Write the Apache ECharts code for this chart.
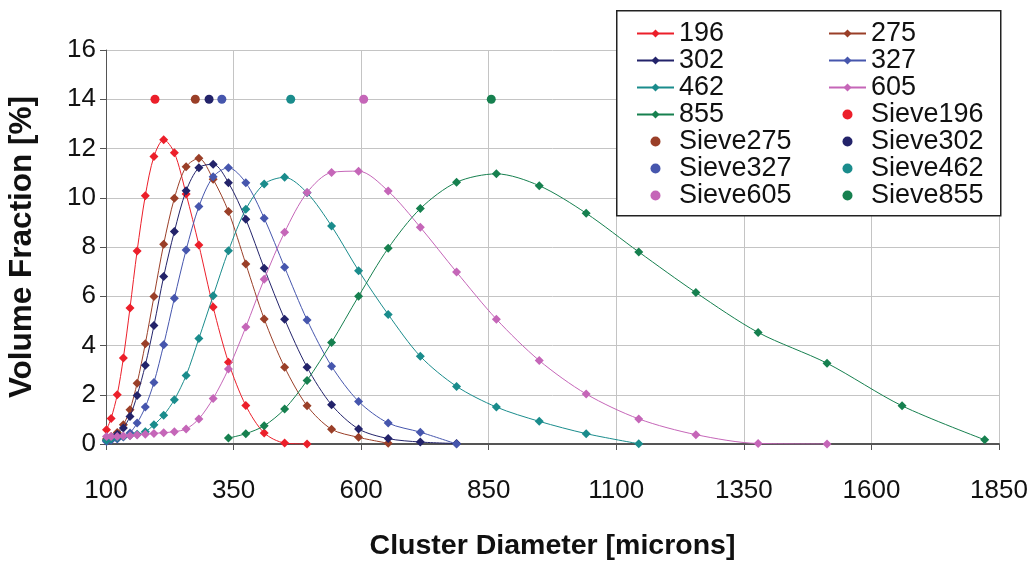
<!DOCTYPE html>
<html>
<head>
<meta charset="utf-8">
<script src="https://cdn.jsdelivr.net/npm/echarts@6/dist/echarts.min.js"></script>
<style>
  html, body { margin: 0; padding: 0; background: #fff; }
  #main { width: 1034px; height: 562px; }
</style>
</head>
<body>
<div id="main"></div>
<script>
// cluster diameter bins (microns), shared by every curve
const diameters = [101, 110, 122, 134, 147, 161, 177, 194, 213, 234, 257, 282, 310, 340, 374, 410,
                   450, 494, 542, 595, 653, 716, 787, 865, 949, 1041, 1144, 1256, 1378, 1513, 1660, 1822];

// volume fraction [%] per bin, null = no point
const v196 = [0.58, 1.04, 2.0, 3.49, 5.52, 7.84, 10.08, 11.68, 12.36, 11.83, 10.15, 8.08, 5.56, 3.32, 1.56, 0.45,
              0.04, 0.0, null, null, null, null, null, null, null, null, null, null, null, null, null, null];
const v275 = [0.2, 0.3, 0.47, 0.78, 1.39, 2.47, 4.07, 5.99, 8.11, 9.98, 11.26, 11.6, 10.75, 9.44, 7.31, 5.08,
              3.12, 1.55, 0.6, 0.27, 0.03, null, null, null, null, null, null, null, null, null, null, null];
const v302 = [0.15, 0.25, 0.4, 0.65, 1.12, 1.97, 3.2, 4.81, 6.8, 8.63, 10.28, 11.22, 11.36, 10.61, 9.13, 7.14,
              5.07, 3.12, 1.59, 0.61, 0.22, 0.08, 0.02, null, null, null, null, null, null, null, null, null];
const v327 = [0.1, 0.15, 0.2, 0.28, 0.45, 0.85, 1.5, 2.5, 4.03, 5.92, 7.88, 9.64, 10.85, 11.22, 10.61, 9.17,
              7.18, 5.04, 3.16, 1.73, 0.85, 0.48, 0.0, null, null, null, null, null, null, null, null, null];
const v462 = [0.15, 0.2, 0.25, 0.3, 0.35, 0.4, 0.5, 0.78, 1.17, 1.8, 2.78, 4.28, 6.02, 7.85, 9.53, 10.56,
              10.83, 10.2, 8.85, 7.04, 5.26, 3.56, 2.34, 1.5, 0.92, 0.42, 0.01, null, null, null, null, null];
const v605 = [0.3, 0.3, 0.3, 0.32, 0.34, 0.37, 0.4, 0.43, 0.46, 0.5, 0.61, 1.02, 1.85, 3.05, 4.75, 6.69,
              8.6, 10.21, 11.03, 11.08, 10.27, 8.8, 6.98, 5.07, 3.39, 2.03, 1.02, 0.38, 0.02, 0.0, null, null];
const v855 = [null, null, null, null, null, null, null, null, null, null, null, null, null, 0.24, 0.42, 0.74,
              1.42, 2.58, 4.12, 6.0, 7.95, 9.56, 10.63, 10.97, 10.49, 9.37, 7.8, 6.15, 4.53, 3.28, 1.55, 0.17];

// sieve sizes, all plotted on one row
const sieveSizes = [196, 275, 302, 327, 462, 605, 855];
const sieveLevel = [14, 14, 14, 14, 14, 14, 14];

const curveNames = ['196', '275', '302', '327', '462', '605', '855'];
const curveValues = [v196, v275, v302, v327, v462, v605, v855];
const colors = ['#ec1f2a', '#9a3f28', '#23236a', '#4656ad', '#1a8c8c', '#c566b8', '#16804f'];

const font = "'Liberation Sans', Arial, sans-serif";

function pairs(vals){
    let out = [];
    for (let i = 0; i < diameters.length; i++){
        if (vals[i] !== null) out.push([diameters[i], vals[i]]);
    }
    return out;
}

let series = [];
curveNames.forEach((n, i) => {
    series.push({
        name: n,
        type: 'line',
        data: pairs(curveValues[i]),
        smooth: 0.3,
        symbol: 'diamond',
        symbolSize: 9,
        color: colors[i],
        lineStyle: {width: 1, color: colors[i]},
        itemStyle: {color: colors[i], opacity: 1},
        z: 3 + i
    });
});
sieveSizes.forEach((s, i) => {
    series.push({
        name: 'Sieve' + s,
        type: 'scatter',
        data: [[s, sieveLevel[i]]],
        symbol: 'circle',
        symbolSize: 9,
        itemStyle: {color: colors[i], opacity: 1},
        z: 12
    });
});

const col1 = ['196', '302', '462', '855', 'Sieve275', 'Sieve327', 'Sieve605'];
const col2 = ['275', '327', '605', 'Sieve196', 'Sieve302', 'Sieve462', 'Sieve855'];
const legendText = {fontFamily: font, fontSize: 27, color: '#111', lineHeight: 27};

let option = {
    animation: false,
    backgroundColor: '#fff',
    grid: {left: 106, right: 35, top: 50, bottom: 118, containLabel: false, outerBoundsMode: 'none'},
    graphic: [{
        type: 'rect',
        left: 616, top: 10,
        shape: {width: 384, height: 205},
        style: {fill: '#fff', stroke: '#222', lineWidth: 1.5},
        z: 20
    }],
    legend: [
        {data: col1, orient: 'vertical', left: 631, top: 15, itemWidth: 37, itemHeight: 10,
         itemGap: 0, textStyle: legendText, z: 30},
        {data: col2, orient: 'vertical', left: 823, top: 15, itemWidth: 37, itemHeight: 10,
         itemGap: 0, textStyle: legendText, z: 30}
    ],
    xAxis: {
        type: 'value',
        min: 100, max: 1850, interval: 250,
        name: 'Cluster Diameter [microns]',
        nameLocation: 'middle',
        nameGap: 88,
        nameTextStyle: {fontFamily: font, fontSize: 28.5, fontWeight: 'bold', color: '#111'},
        axisLine: {show: true, onZero: false, lineStyle: {color: '#555', width: 2}},
        axisTick: {show: true, length: 6, lineStyle: {color: '#555'}},
        axisLabel: {fontFamily: font, fontSize: 26, color: '#111', margin: 34,
                    formatter: v => String(v)},
        splitLine: {show: true, lineStyle: {color: '#c4c4c4', width: 1}}
    },
    yAxis: {
        type: 'value',
        min: 0, max: 16, interval: 2,
        name: 'Volume Fraction [%]',
        nameLocation: 'middle',
        nameGap: 68,
        nameTextStyle: {fontFamily: font, fontSize: 31.5, fontWeight: 'bold', color: '#111'},
        axisLine: {show: true, lineStyle: {color: '#555', width: 1}},
        axisTick: {show: true, length: 6, lineStyle: {color: '#555'}},
        axisLabel: {fontFamily: font, fontSize: 26, color: '#111', margin: 10},
        splitLine: {show: true, lineStyle: {color: '#c4c4c4', width: 1}}
    },
    series: series
};

let chart = echarts.init(document.getElementById('main'));
chart.setOption(option);
</script>
</body>
</html>
